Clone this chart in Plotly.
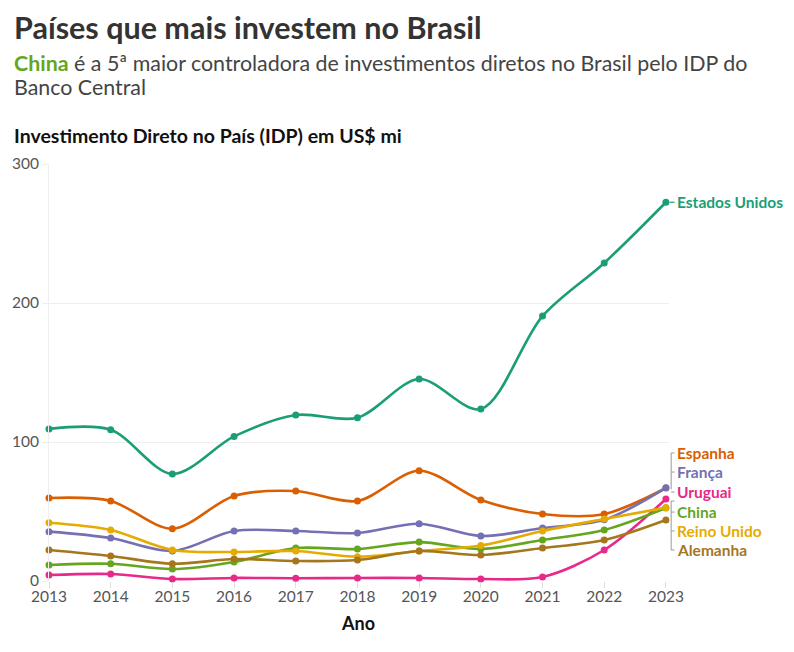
import plotly.graph_objects as go

anos = [2013, 2014, 2015, 2016, 2017, 2018, 2019, 2020, 2021, 2022, 2023]

estados_unidos = [109.4, 108.8, 77.0, 104.0, 119.4, 117.5, 145.3, 123.7, 190.6, 228.8, 272.5]
espanha = [59.7, 57.6, 37.6, 61.2, 64.7, 57.6, 79.3, 58.3, 48.2, 48.2, 66.9]
franca = [35.5, 30.9, 21.6, 36.0, 36.0, 34.5, 41.2, 32.4, 38.1, 44.0, 67.0]
uruguai = [4.3, 5.0, 1.4, 2.2, 2.0, 2.2, 2.2, 1.4, 2.9, 22.3, 59.0]
china = [11.5, 12.4, 8.6, 13.7, 23.7, 23.0, 28.0, 23.0, 29.5, 36.7, 52.5]
reino_unido = [41.9, 36.7, 22.3, 20.9, 21.6, 17.5, 21.6, 25.5, 36.0, 44.6, 52.8]
alemanha = [22.3, 18.0, 12.4, 15.8, 14.4, 15.1, 21.6, 18.7, 23.7, 29.5, 43.9]

series = [
    ("Estados Unidos", estados_unidos, "#1b9e77"),
    ("Espanha", espanha, "#d95f02"),
    ("França", franca, "#7570b3"),
    ("Uruguai", uruguai, "#e7298a"),
    ("China", china, "#66a61e"),
    ("Reino Unido", reino_unido, "#e6ab02"),
    ("Alemanha", alemanha, "#a6761d"),
]

# posicao vertical dos rotulos (em unidades do eixo y) para evitar sobreposicao
label_pos = {"Espanha": 92.1, "França": 78.4, "Uruguai": 64.0, "China": 49.6,
             "Reino Unido": 36.0, "Alemanha": 22.3}

FONT = "Lato"
YMAX = 300
PH = 417  # altura da area do grafico em px
PW = 620

def py(px):
    # pixel vertical (referencia da tela) -> coordenada paper
    return (573 - (px - 8)) / PH

fig = go.Figure()
for nome, vals, cor in series:
    fig.add_trace(go.Scatter(
        x=anos, y=vals, name=nome, mode="lines+markers",
        line=dict(color=cor, width=2.6, shape="spline", smoothing=0.9),
        marker=dict(color=cor, size=7),
        cliponaxis=False, showlegend=False,
    ))

annotations = []
shapes = []

# rotulo Estados Unidos
annotations.append(dict(
    xref="paper", yref="y", x=1.0095, y=estados_unidos[-1], text="<b>Estados Unidos</b>",
    xanchor="left", yanchor="middle", showarrow=False,
    font=dict(family=FONT, size=15.5, color="#1b9e77")))
shapes.append(dict(type="line", xref="paper", yref="y", x0=1.0015, x1=1.009,
                   y0=estados_unidos[-1], y1=estados_unidos[-1],
                   line=dict(color="#1b9e77", width=1.2)))

for nome, vals, cor in series[1:]:
    annotations.append(dict(
        xref="paper", yref="y", x=1.0095, y=label_pos[nome], text="<b>%s</b>" % nome,
        xanchor="left", yanchor="middle", showarrow=False,
        font=dict(family=FONT, size=15.5, color=cor)))
    shapes.append(dict(type="line", xref="paper", yref="y", x0=1.0035, x1=1.009,
                       y0=label_pos[nome], y1=label_pos[nome],
                       line=dict(color="#999", width=1)))

# colchetes cinza ligando os rotulos aos pontos finais
shapes.append(dict(type="line", xref="paper", yref="y", x0=1.0035, x1=1.0035,
                   y0=label_pos["Espanha"], y1=66.0, line=dict(color="#999", width=1)))
shapes.append(dict(type="line", xref="paper", yref="y", x0=1.0035, x1=1.0035,
                   y0=57.5, y1=label_pos["Alemanha"], line=dict(color="#999", width=1)))
shapes.append(dict(type="line", xref="paper", yref="y", x0=1.0035, x1=1.009,
                   y0=57.5, y1=57.5, line=dict(color="#999", width=1)))

X0 = (12 - 49) / PW

# titulos
annotations += [
    dict(xref="paper", yref="paper", x=X0, y=py(27), xanchor="left", yanchor="middle",
         text="<b>Países que mais investem no Brasil</b>", showarrow=False,
         font=dict(family=FONT, size=30.5, color="#333333")),
    dict(xref="paper", yref="paper", x=X0, y=py(63), xanchor="left", yanchor="middle",
         text="<b><span style='color:#66a61e'>China</span></b> é a 5ª maior controladora de investimentos diretos no Brasil pelo IDP do",
         showarrow=False, font=dict(family=FONT, size=21.4, color="#444444")),
    dict(xref="paper", yref="paper", x=X0, y=py(87), xanchor="left", yanchor="middle",
         text="Banco Central", showarrow=False, font=dict(family=FONT, size=21.4, color="#444444")),
    dict(xref="paper", yref="paper", x=X0, y=py(136), xanchor="left", yanchor="middle",
         text="<b>Investimento Direto no País (IDP) em US$ mi</b>", showarrow=False,
         font=dict(family=FONT, size=19.5, color="#111111")),
    dict(xref="paper", yref="paper", x=(358 - 49) / PW, y=py(623), xanchor="center", yanchor="middle",
         text="<b>Ano</b>", showarrow=False, font=dict(family=FONT, size=18, color="#111111")),
]

# a pagina tem margem de 8px no body; a figura e reduzida para caber na janela
fig.update_layout(
    width=786, height=644,
    margin=dict(l=41, r=125, t=156, b=71, autoexpand=False),
    plot_bgcolor="white", paper_bgcolor="white",
    font=dict(family=FONT, size=15, color="#555555"),
    annotations=annotations, shapes=shapes,
    xaxis=dict(range=[2013, 2023.05], tickvals=anos, ticktext=[str(a) for a in anos],
               showgrid=False, zeroline=False, showline=False,
               ticks="outside", ticklen=6, tickcolor="#dddddd", ticklabelstandoff=-5,
               tickfont=dict(family=FONT, size=15.5, color="#555555")),
    yaxis=dict(range=[0, YMAX], tickvals=[0, 100, 200, 300],
               showgrid=True, gridcolor="#eeeeee", gridwidth=1,
               zeroline=False, showline=True, linecolor="#eeeeee",
               ticks="outside", ticklen=6, tickcolor="#eeeeee",
               tickfont=dict(family=FONT, size=15.5, color="#555555")),
)

fig.write_html("out.html")
